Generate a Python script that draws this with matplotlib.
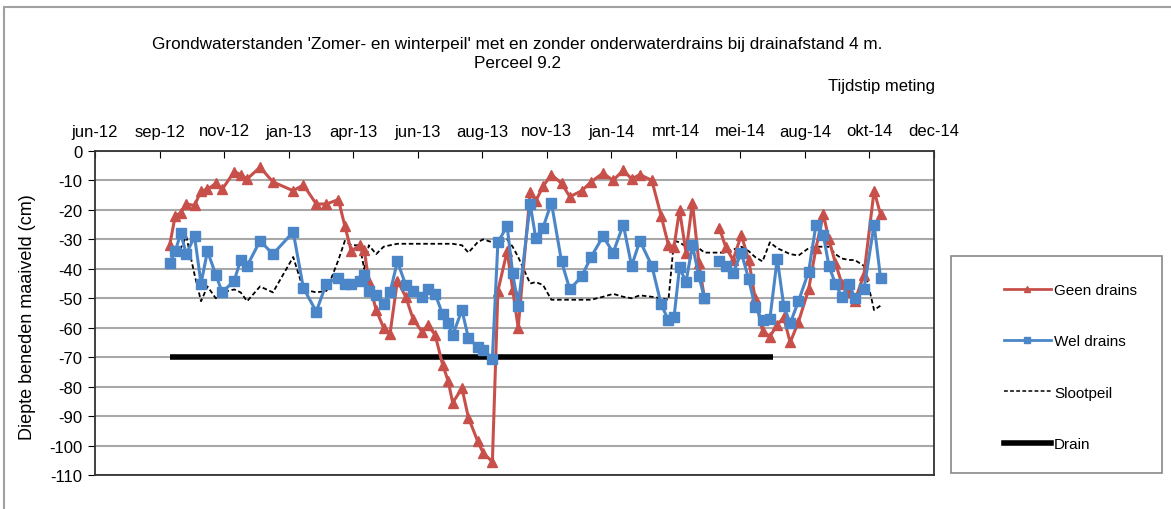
import numpy as np
import pandas as pd
import matplotlib
matplotlib.use("Agg")
import matplotlib.pyplot as plt
from matplotlib.patches import Rectangle
from matplotlib.lines import Line2D

plt.rcParams['font.family'] = ['Liberation Sans', 'DejaVu Sans']
plt.rcParams['axes.unicode_minus'] = False

# meetdata, NaN = geen meting
dates = ['2012-09-18', '2012-09-24', '2012-09-30', '2012-10-06', '2012-10-15', '2012-10-22',
         '2012-10-29', '2012-11-07', '2012-11-14', '2012-11-27', '2012-12-04', '2012-12-11',
         '2012-12-25', '2013-01-08', '2013-01-30', '2013-02-10', '2013-02-24', '2013-03-07',
         '2013-03-20', '2013-03-27', '2013-04-03', '2013-04-12', '2013-04-17', '2013-04-22',
         '2013-04-30', '2013-05-08', '2013-05-15', '2013-05-23', '2013-06-01', '2013-06-09',
         '2013-06-19', '2013-06-25', '2013-07-03', '2013-07-11', '2013-07-17', '2013-07-22',
         '2013-08-01', '2013-08-08', '2013-08-18', '2013-08-24', '2013-09-03', '2013-09-09',
         '2013-09-19', '2013-09-25', '2013-10-01', '2013-10-14', '2013-10-20', '2013-10-28',
         '2013-11-06', '2013-11-17', '2013-11-26', '2013-12-09', '2013-12-19', '2014-01-01',
         '2014-01-12', '2014-01-23', '2014-02-01', '2014-02-10', '2014-02-23', '2014-03-05',
         '2014-03-13', '2014-03-19', '2014-03-25', '2014-04-01', '2014-04-08', '2014-04-15',
         '2014-04-21', '2014-04-29', '2014-05-07', '2014-05-14', '2014-05-22', '2014-05-31',
         '2014-06-08', '2014-06-15', '2014-06-23', '2014-07-01', '2014-07-09', '2014-07-16',
         '2014-07-23', '2014-08-01', '2014-08-12', '2014-08-20', '2014-08-28', '2014-09-03',
         '2014-09-10', '2014-09-17', '2014-09-25', '2014-10-01', '2014-10-11', '2014-10-22',
         '2014-10-29']

geen_drains = [-32, -22, -21, -18, -18.5, -13.5, -13, -11, -13, -7, -8, -9.5,
               -5.5, -10.5, -13.5, -11.5, -18, -18, -16.5, -25.5, -34, -32, -33.5, -44.5,
               -54, -60, -62, -44, -49.5, -57, -61.5, -59, -62.5, -72.5, -78, -85.5,
               -80.5, -90.5, -98.5, -102.5, -105.5, -47.5, -34, -47, -60, -14, -17, -12,
               -8, -11, -15.5, -13.5, -10.5, -7.5, -10, -6.5, -9.5, -8, -10, -22,
               -32, -32.5, -20, -34.5, -17.5, -38, -50, np.nan, -26, -32.5, -37, -28.5,
               -37, -50, -61, -63, -59, -56.5, -65, -58, -47, -33, -21.5, -30,
               -38, -45, -48, -51, -42, -13.5, -21.5]

wel_drains = [-38, -34, -28, -35, -29, -45, -34, -42, -48, -44, -37, -39,
              -30.5, -35, -27.5, -46.5, -54.5, -45, -43, -45, -45, -44, -42, -47.5,
              -49, -52, -48, -37.5, -45.5, -47.5, -49.5, -47, -48.5, -55.5, -58.5, -62.5,
              -54, -63.5, -66.5, -67.5, -70.5, -31, -25.5, -41.5, -52.5, -18, -29.5, -26,
              -17.5, -37.5, -47, -42.5, -36, -29, -34.5, -25, -39, -30.5, -39, -52,
              -57.5, -56.5, -39.5, -44.5, -32, -42.5, -50, np.nan, -37.5, -39, -41.5, -34.5,
              -43.5, -53, -57.5, -57, -36.5, -52.5, -58.5, -51, -41, -25, -28.5, -39,
              -45, -49.5, -45, -50, -47, -25, -43]

slootpeil = [-33, -35, -33, -29, -42, -51, -46, -50, -48, -47, -48, -51,
             -46, -48, -36, -47, -48, -47.5, -37, -30.5, -32, -32, -40, -32,
             -35, -32.5, -32, -31.5, -31.5, -31.5, -31.5, -31.5, -31.5, -31.5, -31.5, -31.5,
             -32, -34.5, -31, -30, -31, -31.5, -30, -32.5, -36, -45, -44.5, -45.5,
             -50.5, -50.5, -50.5, -50.5, -50.5, -49.5, -48.5, -49.5, -50, -49, -49.5, -50,
             -50.5, -30.5, -31, -32.5, -31.5, -33, -34.5, -34.5, -34.5, -34.5, -33.5, -32.5,
             -34, -36, -37.5, -31, -33, -34, -35, -35.5, -33, -32.5, -32.5, -32.5,
             -35, -36.5, -37, -37, -39, -54, -52.5]

drain_dates = ['2012-09-18', '2014-07-04']
drain_level = [-70, -70]

tick_labels = ['jun-12', 'sep-12', 'nov-12', 'jan-13', 'apr-13', 'jun-13', 'aug-13',
               'nov-13', 'jan-14', 'mrt-14', 'mei-14', 'aug-14', 'okt-14', 'dec-14']

x = pd.to_datetime(dates)
xd = pd.to_datetime(drain_dates)
ticks = pd.date_range('2012-06-29', periods=len(tick_labels), freq='70D')

W, H = 1171, 510
fig = plt.figure(figsize=(W / 100, H / 100), dpi=100)

# rand om de hele grafiek
fig.patches.append(Rectangle((4 / W, -0.05), 1.2, 1 - 8 / H + 0.05, transform=fig.transFigure,
                             fill=False, edgecolor='#a0a0a0', linewidth=1.5))

ax = fig.add_axes([95 / W, (H - 476) / H, (934 - 95) / W, (476 - 152) / H])

red = '#C8504B'
blue = '#4A86C8'

ax.plot(xd, drain_level, color='black', linewidth=4, solid_capstyle='butt', zorder=2)
ax.plot(x, slootpeil, color='black', linestyle=(0, (2.5, 1.5)), linewidth=1.3, zorder=3)
ax.plot(x, geen_drains, color=red, linewidth=2.2, marker='^', markersize=6.5, zorder=4)
ax.plot(x, wel_drains, color=blue, linewidth=2.2, marker='s', markersize=6.5, zorder=5)

ax.set_ylim(-110, 0)
ax.set_yticks(range(0, -111, -10))
ax.set_xlim(ticks[0], ticks[-1])
ax.set_xticks(ticks)
ax.set_xticklabels(tick_labels)
ax.xaxis.tick_top()
ax.tick_params(axis='x', direction='in', length=5, pad=9, labelsize=12)
ax.tick_params(axis='y', direction='out', length=5, pad=4, labelsize=12)
ax.yaxis.grid(True, color='#a8a8a8', linewidth=1.5)
ax.set_axisbelow(True)
for s in ax.spines.values():
    s.set_color('#333333')
    s.set_linewidth(1.3)

fig.text(517 / W, 1 - 44 / H, "Grondwaterstanden 'Zomer- en winterpeil' met en zonder onderwaterdrains bij drainafstand 4 m.",
         ha='center', va='center', fontsize=12.3)
fig.text(517 / W, 1 - 63 / H, "Perceel 9.2", ha='center', va='center', fontsize=12.3)
fig.text(935 / W, 1 - 86 / H, "Tijdstip meting", ha='right', va='center', fontsize=12)
fig.text(28 / W, 1 - 317 / H, "Diepte beneden maaiveld (cm)", rotation=90,
         ha='center', va='center', fontsize=13)

# legenda in een eigen kader
fig.patches.append(Rectangle((951 / W, (H - 474) / H), (1162 - 951) / W, (474 - 257) / H,
                             transform=fig.transFigure, fill=False, edgecolor='#888888', linewidth=1.2))
handles = [Line2D([], [], color=red, linewidth=2, marker='^', markersize=4),
           Line2D([], [], color=blue, linewidth=2, marker='s', markersize=4),
           Line2D([], [], color='black', linestyle=(0, (2.5, 1.5)), linewidth=1.1),
           Line2D([], [], color='black', linewidth=4)]
fig.legend(handles, ['Geen drains', 'Wel drains', 'Slootpeil', 'Drain'],
           loc='center left', bbox_to_anchor=(990 / W, (H - 368) / H), frameon=False,
           fontsize=11, labelspacing=2.45, handlelength=3.1, handletextpad=0.2)

fig.savefig('out.png', dpi=100)
